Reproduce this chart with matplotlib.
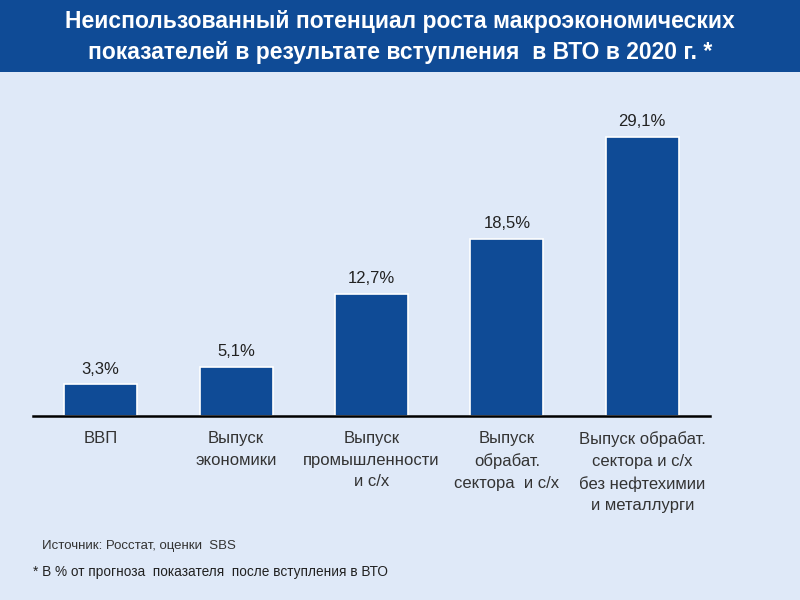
import matplotlib
matplotlib.use("Agg")
import matplotlib.pyplot as plt
from matplotlib.patches import Rectangle

categories = ["ВВП",
              "Выпуск\nэкономики",
              "Выпуск\nпромышленности\nи с/х",
              "Выпуск\nобрабат.\nсектора  и с/х",
              "Выпуск обрабат.\nсектора и с/х\nбез нефтехимии\nи металлурги"]
values = [3.3, 5.1, 12.7, 18.5, 29.1]
value_labels = ["3,3%", "5,1%", "12,7%", "18,5%", "29,1%"]

title = ("Неиспользованный потенциал роста макроэкономических\n"
         "показателей в результате вступления  в ВТО в 2020 г. *")
source = "Источник: Росстат, оценки  SBS"
note = "* В % от прогноза  показателя  после вступления в ВТО"

bg = "#dfe9f8"
navy = "#0f4b96"

plt.rcParams['font.family'] = ['Liberation Sans', 'DejaVu Sans']

fig = plt.figure(figsize=(8, 6), dpi=100, facecolor=bg)

# title banner
fig.patches.append(Rectangle((0, 1 - 72 / 600), 1, 72 / 600, transform=fig.transFigure,
                             facecolor=navy, edgecolor="none", zorder=0))
fig.text(0.5, 1 - 37 / 600, title, ha="center", va="center", color="white",
         fontsize=16.5, fontweight="bold", linespacing=1.45)

ax = fig.add_axes([33 / 800, 1 - 416 / 600, 677 / 800, 307 / 600])
ax.set_facecolor(bg)
x = range(len(values))
ax.bar(x, values, width=0.54, color=navy, edgecolor="white", linewidth=1.2)
for xi, v, lab in zip(x, values, value_labels):
    ax.text(xi, v + 0.8, lab, ha="center", va="bottom", fontsize=12, color="#222222")
ax.set_xlim(-0.5, 4.5)
ax.set_ylim(0, 32)
for s in ["top", "right", "left"]:
    ax.spines[s].set_visible(False)
ax.spines["bottom"].set_linewidth(1.8)
ax.spines["bottom"].set_color("black")
ax.set_yticks([])
ax.set_xticks(list(x))
ax.set_xticklabels(categories, fontsize=12, color="#333333", linespacing=1.55, va="top")
ax.tick_params(axis="x", length=0, pad=11)

fig.text(42 / 800, 1 - 546 / 600, source, fontsize=9.5, color="#333333", va="center")
fig.text(33 / 800, 1 - 572 / 600, note, fontsize=9.8, color="#222222", va="center")

fig.savefig("out.png", dpi=100, facecolor=bg)
